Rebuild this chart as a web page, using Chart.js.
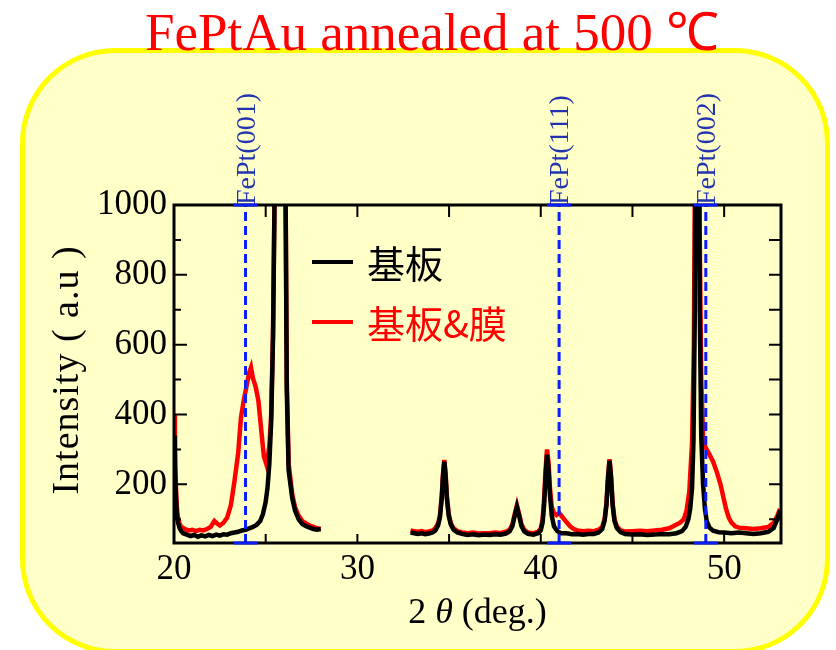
<!DOCTYPE html>
<html>
<head>
<meta charset="utf-8">
<script src="https://cdn.jsdelivr.net/npm/chart.js@4.4.1/dist/chart.umd.min.js"></script>
<style>
  html, body { margin: 0; padding: 0; background: #fff; }
  body { width: 836px; height: 650px; position: relative; overflow: hidden; }
  #panel {
    position: absolute; left: 20px; top: 48px; width: 810px; height: 606px;
    box-sizing: border-box; border: 5px solid #ffff00; border-radius: 95px;
    background: #ffffc8;
  }
  #wrap { position: absolute; left: 0; top: 0; width: 836px; height: 650px; }
</style>
</head>
<body>
<div id="panel"></div>
<div id="wrap"><canvas id="xrd" width="836" height="650"></canvas></div>
<script>
// substrate only (null = no scan between 28 and 33 deg)
const angleBlack = [
  20.0, 20.05, 20.1, 20.15, 20.2, 20.3, 20.4, 20.5, 20.7, 20.9, 21.1, 21.3, 21.5, 21.7, 21.9,
  22.1, 22.3, 22.5, 22.7, 22.9, 23.1, 23.3, 23.5, 23.7, 23.9, 24.1, 24.3, 24.5, 24.7, 24.85,
  25.0, 25.1, 25.2, 25.3, 25.4, 25.5, 25.6, 25.8, 26.0, 26.1, 26.15, 26.25, 26.45, 26.6, 26.8,
  27.0, 27.2, 27.4, 27.6, 27.8, 28.0,
  30.5,
  32.9, 33.1, 33.3, 33.5, 33.7, 33.9, 34.1, 34.25, 34.4, 34.5, 34.6, 34.67, 34.74, 34.81, 34.88,
  34.98, 35.1, 35.25, 35.45, 35.7, 36.0, 36.3, 36.6, 36.9, 37.2, 37.5, 37.8, 38.1, 38.3, 38.45,
  38.58, 38.7, 38.82, 38.95, 39.1, 39.3, 39.6, 39.85, 40.0, 40.1, 40.18, 40.26, 40.34, 40.42, 40.5,
  40.6, 40.72, 40.9, 41.1, 41.4, 41.7, 42.0, 42.3, 42.6, 42.9, 43.15, 43.35, 43.48, 43.58, 43.67,
  43.75, 43.83, 43.92, 44.02, 44.15, 44.35, 44.6, 45.0, 45.4, 45.8, 46.2, 46.6, 47.0, 47.4, 47.7,
  47.9, 48.05, 48.15, 48.25, 48.33, 48.4, 48.47, 48.53, 48.6, 48.67, 48.75, 48.85, 48.95, 49.05, 49.2,
  49.4, 49.7, 50.0, 50.4, 50.8, 51.2, 51.6, 52.0, 52.4, 52.7, 52.9, 53.05
];
const intensityBlack = [
  340, 250, 170, 120, 95, 75, 66, 60, 56, 52, 55, 50, 54, 51, 55,
  52, 56, 53, 57, 56, 60, 62, 64, 68, 70, 74, 78, 84, 95, 115,
  150, 190, 260, 380, 620, 1100, 1800, 2500, 1600, 900, 470, 240, 160, 125, 100,
  86, 80, 76, 72, 70, 72,
  null,
  62, 60, 58, 60, 57, 59, 62, 68, 82, 105, 160, 225, 265, 225, 160,
  110, 84, 70, 62, 58, 55, 57, 54, 56, 55, 57, 56, 59, 65, 80,
  110, 135, 110, 80, 65, 58, 56, 60, 68, 90, 140, 220, 285, 245, 170,
  110, 80, 66, 60, 60, 57, 58, 56, 58, 58, 62, 72, 95, 140, 220,
  268, 220, 140, 95, 75, 63, 58, 56, 57, 55, 56, 58, 57, 60, 66,
  78, 100, 130, 190, 330, 700, 1500, 3000, 1500, 700, 340, 200, 130, 95, 76,
  67, 63, 62, 60, 62, 60, 58, 60, 64, 75, 100, 125
];

// substrate + film
const angleRed = [
  20.0, 20.05, 20.1, 20.15, 20.2, 20.3, 20.4, 20.6, 20.8, 21.0, 21.2, 21.4, 21.6, 21.8, 22.0,
  22.2, 22.35, 22.5, 22.7, 22.9, 23.1, 23.3, 23.5, 23.65, 23.8, 23.95, 24.1, 24.2, 24.3, 24.45,
  24.6, 24.75, 24.9, 25.05, 25.2, 25.3, 25.4, 25.5, 25.6, 25.8, 26.0, 26.1, 26.15, 26.25, 26.45,
  26.6, 26.8, 27.0, 27.2, 27.4, 27.6, 27.8, 28.0,
  30.5,
  32.9, 33.1, 33.3, 33.5, 33.7, 33.9, 34.1, 34.25, 34.4, 34.5, 34.6, 34.67, 34.74, 34.81, 34.88,
  34.98, 35.1, 35.25, 35.45, 35.7, 36.0, 36.3, 36.6, 36.9, 37.2, 37.5, 37.8, 38.1, 38.3, 38.45,
  38.58, 38.7, 38.82, 38.95, 39.1, 39.3, 39.6, 39.85, 40.0, 40.1, 40.18, 40.26, 40.34, 40.42, 40.5,
  40.6, 40.72, 40.85, 41.0, 41.2, 41.4, 41.6, 41.8, 42.0, 42.3, 42.6, 42.9, 43.15, 43.35, 43.48,
  43.58, 43.67, 43.75, 43.83, 43.92, 44.02, 44.15, 44.35, 44.6, 45.0, 45.4, 45.8, 46.2, 46.6, 47.0,
  47.3, 47.6, 47.8, 47.95, 48.1, 48.25, 48.35, 48.45, 48.53, 48.6, 48.67, 48.75, 48.85, 48.95, 49.05,
  49.2, 49.4, 49.6, 49.8, 49.95, 50.1, 50.25, 50.4, 50.6, 50.8, 51.2, 51.6, 52.0, 52.4, 52.7,
  52.9, 53.05
];
const intensityRed = [
  400, 300, 200, 140, 110, 88, 78, 72, 68, 70, 66, 70, 68, 72, 78,
  95, 88, 82, 90, 105, 140, 210, 290, 390, 440, 480, 520, 535, 505, 480,
  440, 360, 280, 255, 310, 400, 640, 1100, 1800, 2500, 1600, 920, 500, 260, 170,
  135, 110, 95, 88, 82, 78, 74, 72,
  null,
  68, 66, 64, 66, 63, 65, 68, 74, 88, 110, 165, 230, 270, 230, 165,
  115, 88, 74, 66, 62, 60, 62, 59, 60, 60, 62, 61, 64, 70, 85,
  115, 140, 115, 85, 70, 62, 60, 64, 74, 100, 155, 240, 300, 265, 190,
  135, 118, 112, 118, 105, 92, 80, 72, 68, 66, 67, 66, 70, 78, 100,
  145, 225, 272, 225, 145, 100, 80, 68, 65, 66, 67, 66, 68, 70, 74,
  82, 90, 100, 125, 180, 320, 600, 1500, 3000, 1600, 900, 500, 340, 310, 300,
  285, 265, 235, 200, 165, 130, 105, 90, 80, 76, 74, 72, 74, 78, 90,
  110, 130
];

const seriesNames = ['基板', '基板&膜'];
const refAngles = [23.9, 41.0, 49.0];
const refLabels = ['FePt(001)', 'FePt(111)', 'FePt(002)'];
const xMajorTicks = [20, 30, 40, 50];
const xMinorTicks = [25, 35, 45];
const yMajorTicks = [200, 400, 600, 800, 1000];
const yMinorTicks = [100, 300, 500, 700, 900];
const xMin = 20, xMax = 53.1, yMin = 32, yMax = 1000;

const serif = '"Liberation Serif", "Times New Roman", serif';
const cjk = '"Noto Sans CJK JP", "Noto Sans CJK SC", sans-serif';

function toPoints(xs, ys) {
  return xs.map((v, i) => ({ x: v, y: ys[i] }));
}

const refDatasets = refAngles.map(a => ({
  data: [{ x: a, y: yMin }, { x: a, y: yMax }],
  borderColor: '#0a1eff',
  borderWidth: 3,
  borderDash: [9, 5],
  pointRadius: 0
}));

// frame, inward ticks, marker labels, legend and titles
const overlay = {
  id: 'overlay',
  afterDraw(chart) {
    const { ctx, chartArea: a, scales: { x, y } } = chart;
    ctx.save();

    ctx.strokeStyle = '#000';
    ctx.lineWidth = 2;
    ctx.beginPath();
    yMajorTicks.forEach(v => {
      const p = y.getPixelForValue(v);
      ctx.moveTo(a.left, p); ctx.lineTo(a.left + 13, p);
      ctx.moveTo(a.right, p); ctx.lineTo(a.right - 12, p);
    });
    yMinorTicks.forEach(v => {
      const p = y.getPixelForValue(v);
      ctx.moveTo(a.left, p); ctx.lineTo(a.left + 7, p);
      ctx.moveTo(a.right, p); ctx.lineTo(a.right - 12, p);
    });
    xMajorTicks.concat(xMinorTicks).forEach(v => {
      const p = x.getPixelForValue(v);
      ctx.moveTo(p, a.bottom); ctx.lineTo(p, a.bottom - 9);
      ctx.moveTo(p, a.top); ctx.lineTo(p, a.top + 12);
    });
    ctx.stroke();

    ctx.lineWidth = 3;
    ctx.strokeRect(a.left, a.top, a.right - a.left, a.bottom - a.top);

    // caps and labels of the FePt reference lines
    refAngles.forEach((v, i) => {
      const p = x.getPixelForValue(v);
      ctx.strokeStyle = '#0a1eff';
      ctx.lineWidth = 3;
      ctx.beginPath();
      ctx.moveTo(p - 12, a.top); ctx.lineTo(p + 12, a.top);
      ctx.moveTo(p - 12, a.bottom); ctx.lineTo(p + 12, a.bottom);
      ctx.stroke();

      ctx.save();
      ctx.translate(p + 2, a.top);
      ctx.rotate(-Math.PI / 2);
      ctx.fillStyle = '#2233b0';
      ctx.font = '28px ' + serif;
      ctx.textAlign = 'left';
      ctx.textBaseline = 'middle';
      ctx.fillText(refLabels[i], 0, 0);
      ctx.restore();
    });

    // legend
    const legendColors = ['#000000', '#ff0000'];
    const legendY = [262, 322];
    seriesNames.forEach((name, i) => {
      ctx.strokeStyle = legendColors[i];
      ctx.lineWidth = 4;
      ctx.beginPath();
      ctx.moveTo(312, legendY[i]); ctx.lineTo(353, legendY[i]);
      ctx.stroke();
      ctx.fillStyle = legendColors[i];
      ctx.font = '38px ' + cjk;
      ctx.textAlign = 'left';
      ctx.textBaseline = 'middle';
      ctx.fillText(name, 367, legendY[i] + 2);
    });

    // main title
    ctx.fillStyle = '#ff0000';
    ctx.font = '53px ' + serif;
    ctx.textAlign = 'center';
    ctx.textBaseline = 'alphabetic';
    ctx.fillText('FePtAu annealed at 500 ℃', 432, 50);

    // y axis title
    ctx.save();
    ctx.translate(68, (a.top + a.bottom) / 2 - 4);
    ctx.rotate(-Math.PI / 2);
    ctx.fillStyle = '#000';
    ctx.font = '38px ' + serif;
    ctx.letterSpacing = '1px';
    ctx.textAlign = 'center';
    ctx.textBaseline = 'middle';
    ctx.fillText('Intensity ( a.u )', 0, 0);
    ctx.restore();

    // x axis title with italic theta
    const parts = [['2 ', ''], ['θ', 'italic '], [' (deg.)', '']];
    ctx.fillStyle = '#000';
    ctx.textAlign = 'left';
    let total = 0;
    parts.forEach(([t, s]) => { ctx.font = s + '36px ' + serif; total += ctx.measureText(t).width; });
    let cx = (a.left + a.right) / 2 - total / 2;
    parts.forEach(([t, s]) => {
      ctx.font = s + '36px ' + serif;
      ctx.fillText(t, cx, 623);
      cx += ctx.measureText(t).width;
    });

    ctx.restore();
  }
};

new Chart(document.getElementById('xrd'), {
  type: 'line',
  data: {
    datasets: refDatasets.concat([
      {
        label: seriesNames[0],
        data: toPoints(angleBlack, intensityBlack),
        borderColor: '#000000',
        borderWidth: 4.5,
        pointRadius: 0,
        spanGaps: false
      },
      {
        label: seriesNames[1],
        data: toPoints(angleRed, intensityRed),
        borderColor: '#ff0000',
        borderWidth: 4.5,
        pointRadius: 0,
        spanGaps: false
      }
    ])
  },
  options: {
    responsive: false,
    animation: false,
    events: [],
    layout: { padding: { left: 40, top: 205, right: 55, bottom: 10 } },
    plugins: { legend: { display: false }, tooltip: { enabled: false }, title: { display: false } },
    scales: {
      x: {
        type: 'linear',
        min: xMin,
        max: xMax,
        afterBuildTicks: s => { s.ticks = xMajorTicks.map(v => ({ value: v })); },
        afterFit: s => { s.height = 97; },
        grid: { display: false, drawTicks: false },
        border: { display: false },
        ticks: { color: '#000', padding: 6, maxRotation: 0, font: { family: serif, size: 35 }, callback: v => String(v) }
      },
      y: {
        type: 'linear',
        min: yMin,
        max: yMax,
        afterBuildTicks: s => { s.ticks = yMajorTicks.map(v => ({ value: v })); },
        afterFit: s => { s.width = 134; },
        grid: { display: false, drawTicks: false },
        border: { display: false },
        ticks: { color: '#000', padding: 7, font: { family: serif, size: 35 }, callback: v => String(v) }
      }
    }
  },
  plugins: [overlay]
});
</script>
</body>
</html>
